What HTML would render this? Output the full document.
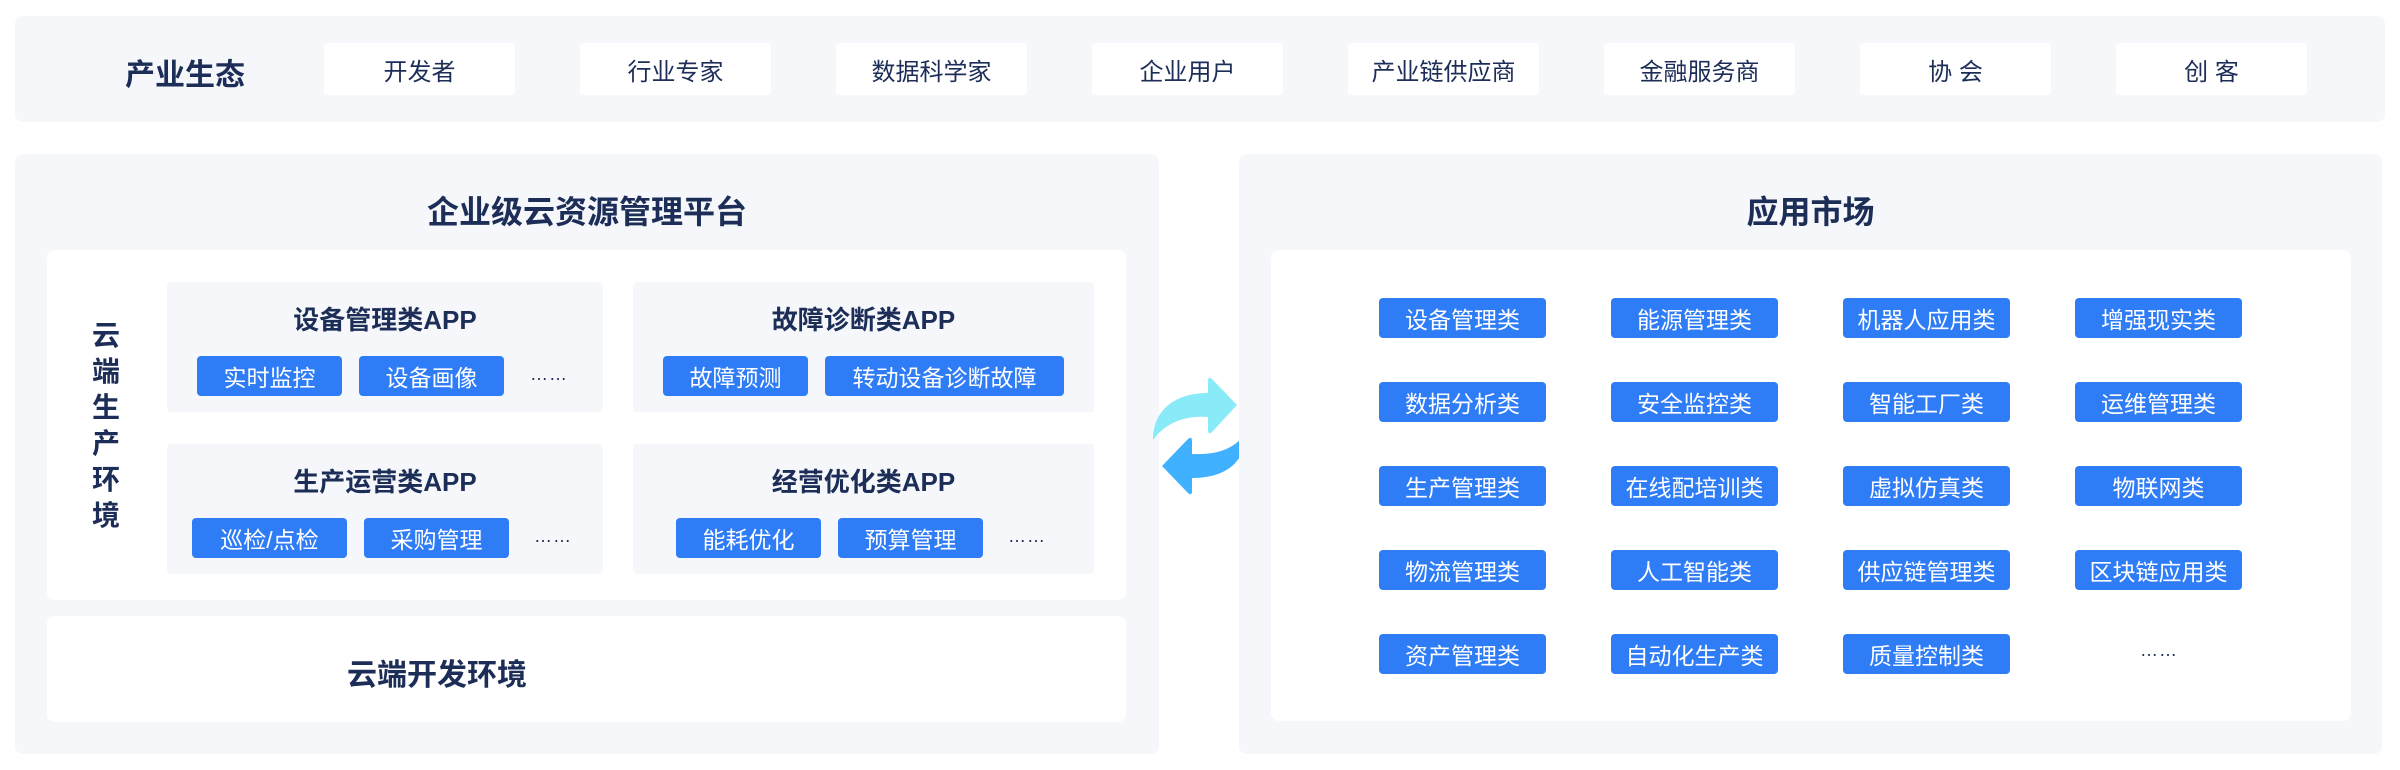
<!DOCTYPE html>
<html><head><meta charset="utf-8"><style>
*{margin:0;padding:0;box-sizing:border-box}
body{width:2400px;height:770px;background:#fff;position:relative;overflow:hidden;font-family:"Liberation Sans","Noto Sans CJK SC",sans-serif;color:#1c2d57}
.a{position:absolute}
.bg{background:#f5f7fa;border-radius:8px}
.w{background:#fff;border-radius:8px}
.c{display:flex;align-items:center;justify-content:center}
.tc{background:#fff;border-radius:4px;font-size:24px;color:#1c2d57}
.b{background:#2f7cf7;color:#fff;border-radius:4px;font-size:23px}
.t{font-weight:bold}
.dots{font-size:18px;color:#1c2d57;letter-spacing:1px}
</style></head><body>
<div class="a bg" style="left:15px;top:16px;width:2370px;height:106px"></div>
<div class="a c t" style="left:110px;top:48px;width:150px;height:48px;font-size:30px">产业生态</div>
<div class="a c tc" style="left:324px;top:43px;width:191px;height:52px">开发者</div>
<div class="a c tc" style="left:580px;top:43px;width:191px;height:52px">行业专家</div>
<div class="a c tc" style="left:836px;top:43px;width:191px;height:52px">数据科学家</div>
<div class="a c tc" style="left:1092px;top:43px;width:191px;height:52px">企业用户</div>
<div class="a c tc" style="left:1348px;top:43px;width:191px;height:52px">产业链供应商</div>
<div class="a c tc" style="left:1604px;top:43px;width:191px;height:52px">金融服务商</div>
<div class="a c tc" style="left:1860px;top:43px;width:191px;height:52px">协 会</div>
<div class="a c tc" style="left:2116px;top:43px;width:191px;height:52px">创 客</div>

<div class="a bg" style="left:15px;top:154px;width:1144px;height:600px"></div>
<div class="a c t" style="left:15px;top:188px;width:1144px;height:44px;font-size:32px">企业级云资源管理平台</div>
<div class="a w" style="left:47px;top:250px;width:1079px;height:350px"></div>
<div class="a t" style="left:88px;top:318px;width:36px;font-size:28px;line-height:36px;text-align:center">云<br>端<br>生<br>产<br>环<br>境</div>

<div class="a bg" style="left:167px;top:282px;width:436px;height:130px;border-radius:4px"></div>
<div class="a c t" style="left:167px;top:300px;width:436px;height:36px;font-size:26px">设备管理类APP</div>
<div class="a c b" style="left:197px;top:356px;width:145px;height:40px">实时监控</div>
<div class="a c b" style="left:359px;top:356px;width:145px;height:40px">设备画像</div>
<div class="a c dots" style="left:524px;top:362px;width:50px;height:24px">……</div>

<div class="a bg" style="left:633px;top:282px;width:461px;height:130px;border-radius:4px"></div>
<div class="a c t" style="left:633px;top:300px;width:461px;height:36px;font-size:26px">故障诊断类APP</div>
<div class="a c b" style="left:663px;top:356px;width:145px;height:40px">故障预测</div>
<div class="a c b" style="left:825px;top:356px;width:239px;height:40px">转动设备诊断故障</div>

<div class="a bg" style="left:167px;top:444px;width:436px;height:130px;border-radius:4px"></div>
<div class="a c t" style="left:167px;top:462px;width:436px;height:36px;font-size:26px">生产运营类APP</div>
<div class="a c b" style="left:192px;top:518px;width:155px;height:40px">巡检/点检</div>
<div class="a c b" style="left:364px;top:518px;width:145px;height:40px">采购管理</div>
<div class="a c dots" style="left:528px;top:524px;width:50px;height:24px">……</div>

<div class="a bg" style="left:633px;top:444px;width:461px;height:130px;border-radius:4px"></div>
<div class="a c t" style="left:633px;top:462px;width:461px;height:36px;font-size:26px">经营优化类APP</div>
<div class="a c b" style="left:676px;top:518px;width:145px;height:40px">能耗优化</div>
<div class="a c b" style="left:838px;top:518px;width:145px;height:40px">预算管理</div>
<div class="a c dots" style="left:1002px;top:524px;width:50px;height:24px">……</div>

<div class="a w" style="left:47px;top:616px;width:1079px;height:106px"></div>
<div class="a c t" style="left:337px;top:650px;width:200px;height:44px;font-size:30px">云端开发环境</div>

<svg class="a" style="left:1150px;top:375px" width="100" height="125" viewBox="0 0 100 125">
<path d="M3,65 C3,35 25,18 58,18 L58,6 Q58,0 63,5 L87,30 L63,56 Q58,61 58,55 L58,42 C35,40 15,48 3,65 Z" fill="#8aebf8"/>
<path d="M96,57 C96,88 75,103 42,103 L42,116 Q42,122 37,117 L12,91 L37,65 Q42,60 42,66 L42,79 C65,80 85,75 96,57 Z" fill="#40b1ff"/>
</svg>

<div class="a bg" style="left:1239px;top:154px;width:1143px;height:600px"></div>
<div class="a c t" style="left:1239px;top:188px;width:1143px;height:44px;font-size:32px">应用市场</div>
<div class="a w" style="left:1271px;top:250px;width:1080px;height:471px"></div>

<div class="a c b" style="left:1379px;top:298px;width:167px;height:40px">设备管理类</div>
<div class="a c b" style="left:1611px;top:298px;width:167px;height:40px">能源管理类</div>
<div class="a c b" style="left:1843px;top:298px;width:167px;height:40px">机器人应用类</div>
<div class="a c b" style="left:2075px;top:298px;width:167px;height:40px">增强现实类</div>

<div class="a c b" style="left:1379px;top:382px;width:167px;height:40px">数据分析类</div>
<div class="a c b" style="left:1611px;top:382px;width:167px;height:40px">安全监控类</div>
<div class="a c b" style="left:1843px;top:382px;width:167px;height:40px">智能工厂类</div>
<div class="a c b" style="left:2075px;top:382px;width:167px;height:40px">运维管理类</div>

<div class="a c b" style="left:1379px;top:466px;width:167px;height:40px">生产管理类</div>
<div class="a c b" style="left:1611px;top:466px;width:167px;height:40px">在线配培训类</div>
<div class="a c b" style="left:1843px;top:466px;width:167px;height:40px">虚拟仿真类</div>
<div class="a c b" style="left:2075px;top:466px;width:167px;height:40px">物联网类</div>

<div class="a c b" style="left:1379px;top:550px;width:167px;height:40px">物流管理类</div>
<div class="a c b" style="left:1611px;top:550px;width:167px;height:40px">人工智能类</div>
<div class="a c b" style="left:1843px;top:550px;width:167px;height:40px">供应链管理类</div>
<div class="a c b" style="left:2075px;top:550px;width:167px;height:40px">区块链应用类</div>

<div class="a c b" style="left:1379px;top:634px;width:167px;height:40px">资产管理类</div>
<div class="a c b" style="left:1611px;top:634px;width:167px;height:40px">自动化生产类</div>
<div class="a c b" style="left:1843px;top:634px;width:167px;height:40px">质量控制类</div>
<div class="a c dots" style="left:2134px;top:638px;width:50px;height:24px">……</div>
</body></html>
